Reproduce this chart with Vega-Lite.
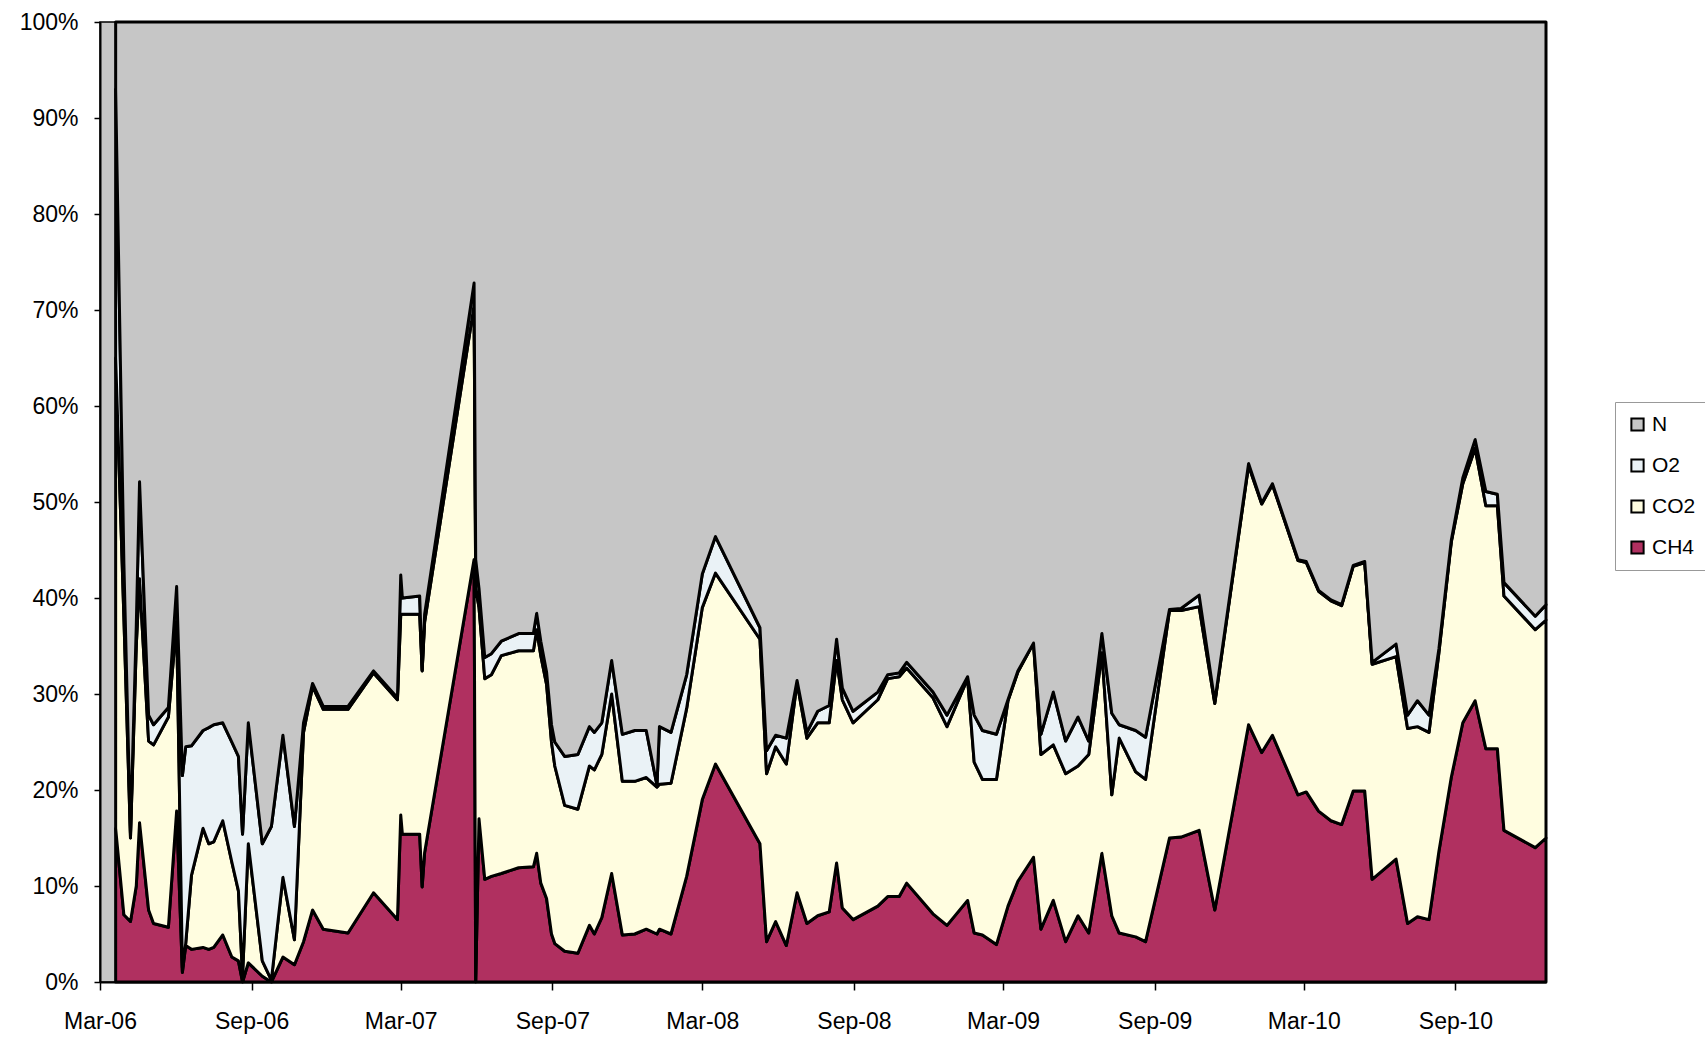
{
  "$schema": "https://vega.github.io/schema/vega-lite/v6.json",
  "autosize": {"type": "none"},
  "width": 1446,
  "height": 960,
  "padding": {"left": 100, "top": 22, "right": 159, "bottom": 56},
  "background": "white",
  "view": {"fill": "#C6C6C6", "stroke": "black", "strokeWidth": 1.5},
  "datasets": {
    "rank": [
      {"gas": "CH4", "r": 1},
      {"gas": "CO2", "r": 2},
      {"gas": "O2", "r": 3},
      {"gas": "N", "r": 4}
    ],
    "gas": [
      {"d":"2006-03-20","CH4":16,"CO2":49,"O2":28,"N":7},
      {"d":"2006-03-30","CH4":7,"CO2":31,"O2":5.6,"N":56.4},
      {"d":"2006-04-07","CH4":6.3,"CO2":8.7,"O2":0.5,"N":84.5},
      {"d":"2006-04-14","CH4":10,"CO2":25,"O2":2,"N":63},
      {"d":"2006-04-18","CH4":16.6,"CO2":25.4,"O2":10.1,"N":47.9},
      {"d":"2006-04-29","CH4":7.5,"CO2":17.6,"O2":2.7,"N":72.2},
      {"d":"2006-05-05","CH4":6.1,"CO2":18.6,"O2":2.1,"N":73.2},
      {"d":"2006-05-23","CH4":5.7,"CO2":21.9,"O2":1,"N":71.4},
      {"d":"2006-06-02","CH4":17.8,"CO2":19.7,"O2":3.7,"N":58.8},
      {"d":"2006-06-09","CH4":1,"CO2":0.5,"O2":20,"N":78.5},
      {"d":"2006-06-13","CH4":3.8,"CO2":0.2,"O2":20.5,"N":75.5},
      {"d":"2006-06-20","CH4":3.4,"CO2":7.7,"O2":13.5,"N":75.4},
      {"d":"2006-07-04","CH4":3.6,"CO2":12.4,"O2":10.2,"N":73.8},
      {"d":"2006-07-11","CH4":3.4,"CO2":11,"O2":12.1,"N":73.5},
      {"d":"2006-07-17","CH4":3.6,"CO2":11,"O2":12.2,"N":73.2},
      {"d":"2006-07-28","CH4":4.9,"CO2":11.9,"O2":10.2,"N":73},
      {"d":"2006-08-08","CH4":2.6,"CO2":9.9,"O2":12.5,"N":75},
      {"d":"2006-08-16","CH4":2.2,"CO2":7.3,"O2":14,"N":76.5},
      {"d":"2006-08-21","CH4":0,"CO2":0.6,"O2":14.8,"N":84.6},
      {"d":"2006-08-28","CH4":2,"CO2":12.4,"O2":12.6,"N":73},
      {"d":"2006-09-14","CH4":0.6,"CO2":1.6,"O2":12.2,"N":85.6},
      {"d":"2006-09-25","CH4":0,"CO2":0.2,"O2":16,"N":83.8},
      {"d":"2006-10-09","CH4":2.6,"CO2":8.3,"O2":14.8,"N":74.3},
      {"d":"2006-10-23","CH4":1.8,"CO2":2.6,"O2":11.8,"N":83.8},
      {"d":"2006-11-03","CH4":4.2,"CO2":21.8,"O2":1,"N":73},
      {"d":"2006-11-14","CH4":7.5,"CO2":23.3,"O2":0.3,"N":68.9},
      {"d":"2006-11-27","CH4":5.5,"CO2":22.9,"O2":0.3,"N":71.3},
      {"d":"2006-12-27","CH4":5.1,"CO2":23.3,"O2":0.3,"N":71.3},
      {"d":"2007-01-27","CH4":9.3,"CO2":22.9,"O2":0.2,"N":67.6},
      {"d":"2007-02-25","CH4":6.5,"CO2":22.9,"O2":0.2,"N":70.4},
      {"d":"2007-03-01","CH4":17.4,"CO2":20.9,"O2":4.1,"N":57.6},
      {"d":"2007-03-03","CH4":15.4,"CO2":22.9,"O2":1.7,"N":60},
      {"d":"2007-03-24","CH4":15.4,"CO2":22.9,"O2":1.9,"N":59.8},
      {"d":"2007-03-27","CH4":9.9,"CO2":22.5,"O2":0.1,"N":67.5},
      {"d":"2007-03-30","CH4":13.5,"CO2":24,"O2":0.8,"N":61.7},
      {"d":"2007-05-29","CH4":44,"CO2":26.5,"O2":2.3,"N":27.2},
      {"d":"2007-05-31","CH4":0,"CO2":41,"O2":3,"N":56},
      {"d":"2007-06-04","CH4":17,"CO2":22,"O2":2,"N":59},
      {"d":"2007-06-11","CH4":10.7,"CO2":20.9,"O2":2.2,"N":66.2},
      {"d":"2007-06-19","CH4":11,"CO2":21,"O2":2.2,"N":65.8},
      {"d":"2007-07-01","CH4":11.3,"CO2":22.7,"O2":1.5,"N":64.5},
      {"d":"2007-07-22","CH4":11.9,"CO2":22.6,"O2":1.8,"N":63.7},
      {"d":"2007-08-09","CH4":12,"CO2":22.5,"O2":1.8,"N":63.7},
      {"d":"2007-08-13","CH4":13.4,"CO2":23.3,"O2":1.7,"N":61.6},
      {"d":"2007-08-18","CH4":10.3,"CO2":23.7,"O2":1.5,"N":64.5},
      {"d":"2007-08-25","CH4":8.7,"CO2":22.3,"O2":1.3,"N":67.7},
      {"d":"2007-08-31","CH4":5,"CO2":20,"O2":1.8,"N":73.2},
      {"d":"2007-09-04","CH4":4,"CO2":18.5,"O2":2.5,"N":75},
      {"d":"2007-09-16","CH4":3.2,"CO2":15.2,"O2":5.1,"N":76.5},
      {"d":"2007-10-02","CH4":3,"CO2":15,"O2":5.7,"N":76.3},
      {"d":"2007-10-16","CH4":5.9,"CO2":16.6,"O2":4.1,"N":73.4},
      {"d":"2007-10-22","CH4":5,"CO2":17.1,"O2":3.9,"N":74},
      {"d":"2007-10-31","CH4":6.7,"CO2":17,"O2":3.3,"N":73},
      {"d":"2007-11-12","CH4":11.3,"CO2":18.7,"O2":3.5,"N":66.5},
      {"d":"2007-11-25","CH4":4.9,"CO2":16,"O2":4.9,"N":74.2},
      {"d":"2007-12-10","CH4":5,"CO2":15.9,"O2":5.3,"N":73.8},
      {"d":"2007-12-24","CH4":5.5,"CO2":15.8,"O2":4.9,"N":73.8},
      {"d":"2008-01-06","CH4":5,"CO2":15.3,"O2":0.2,"N":79.5},
      {"d":"2008-01-09","CH4":5.5,"CO2":15.1,"O2":6,"N":73.4},
      {"d":"2008-01-23","CH4":5,"CO2":15.7,"O2":5.3,"N":74},
      {"d":"2008-02-11","CH4":11,"CO2":17.5,"O2":3.5,"N":68},
      {"d":"2008-03-01","CH4":19,"CO2":20,"O2":3.5,"N":57.5},
      {"d":"2008-03-17","CH4":22.7,"CO2":19.9,"O2":3.8,"N":53.6},
      {"d":"2008-05-10","CH4":14.4,"CO2":21.3,"O2":1.2,"N":63.1},
      {"d":"2008-05-18","CH4":4.2,"CO2":17.5,"O2":2.4,"N":75.9},
      {"d":"2008-05-29","CH4":6.3,"CO2":18.2,"O2":1.2,"N":74.3},
      {"d":"2008-06-11","CH4":3.8,"CO2":18.9,"O2":2.7,"N":74.6},
      {"d":"2008-06-24","CH4":9.3,"CO2":21.9,"O2":0.2,"N":68.6},
      {"d":"2008-07-06","CH4":6.1,"CO2":19.3,"O2":0.6,"N":74},
      {"d":"2008-07-19","CH4":6.9,"CO2":20.1,"O2":1.2,"N":71.8},
      {"d":"2008-08-02","CH4":7.3,"CO2":19.7,"O2":1.8,"N":71.2},
      {"d":"2008-08-11","CH4":12.4,"CO2":21.1,"O2":2.2,"N":64.3},
      {"d":"2008-08-18","CH4":7.7,"CO2":21.7,"O2":1.2,"N":69.4},
      {"d":"2008-08-31","CH4":6.5,"CO2":20.5,"O2":1.2,"N":71.8},
      {"d":"2008-09-30","CH4":7.9,"CO2":21.5,"O2":0.8,"N":69.8},
      {"d":"2008-10-12","CH4":8.9,"CO2":22.7,"O2":0.4,"N":68},
      {"d":"2008-10-26","CH4":8.9,"CO2":22.9,"O2":0.4,"N":67.8},
      {"d":"2008-11-04","CH4":10.3,"CO2":22.4,"O2":0.6,"N":66.7},
      {"d":"2008-12-06","CH4":7.1,"CO2":22.5,"O2":0.6,"N":69.8},
      {"d":"2008-12-23","CH4":5.9,"CO2":20.7,"O2":1.2,"N":72.2},
      {"d":"2009-01-17","CH4":8.5,"CO2":23.1,"O2":0.2,"N":68.2},
      {"d":"2009-01-25","CH4":5.1,"CO2":17.8,"O2":4.9,"N":72.2},
      {"d":"2009-02-04","CH4":4.9,"CO2":16.2,"O2":5.1,"N":73.8},
      {"d":"2009-02-21","CH4":3.9,"CO2":17.2,"O2":4.7,"N":74.2},
      {"d":"2009-03-07","CH4":7.9,"CO2":21.4,"O2":0.1,"N":70.6},
      {"d":"2009-03-19","CH4":10.5,"CO2":21.8,"O2":0.1,"N":67.6},
      {"d":"2009-04-07","CH4":13,"CO2":22.3,"O2":0,"N":64.7},
      {"d":"2009-04-16","CH4":5.5,"CO2":18.2,"O2":2.1,"N":74.2},
      {"d":"2009-05-01","CH4":8.5,"CO2":16.2,"O2":5.5,"N":69.8},
      {"d":"2009-05-16","CH4":4.2,"CO2":17.5,"O2":3.4,"N":74.9},
      {"d":"2009-05-31","CH4":6.9,"CO2":15.6,"O2":5.1,"N":72.4},
      {"d":"2009-06-13","CH4":5.1,"CO2":18.6,"O2":1.4,"N":74.9},
      {"d":"2009-06-29","CH4":13.4,"CO2":20.9,"O2":2,"N":63.7},
      {"d":"2009-07-11","CH4":6.9,"CO2":12.6,"O2":8.5,"N":72},
      {"d":"2009-07-20","CH4":5.1,"CO2":20.3,"O2":1.4,"N":73.2},
      {"d":"2009-08-09","CH4":4.7,"CO2":17.2,"O2":4.3,"N":73.8},
      {"d":"2009-08-21","CH4":4.2,"CO2":16.9,"O2":4.4,"N":74.5},
      {"d":"2009-09-19","CH4":15,"CO2":23.7,"O2":0.1,"N":61.2},
      {"d":"2009-10-03","CH4":15.1,"CO2":23.6,"O2":0.2,"N":61.1},
      {"d":"2009-10-25","CH4":15.8,"CO2":23.3,"O2":1.2,"N":59.7},
      {"d":"2009-11-13","CH4":7.5,"CO2":21.5,"O2":0.2,"N":70.8},
      {"d":"2009-12-24","CH4":26.8,"CO2":27,"O2":0.2,"N":46},
      {"d":"2010-01-09","CH4":23.9,"CO2":25.9,"O2":0.1,"N":50.1},
      {"d":"2010-01-22","CH4":25.7,"CO2":26.1,"O2":0.1,"N":48.1},
      {"d":"2010-02-22","CH4":19.5,"CO2":24.4,"O2":0.1,"N":56},
      {"d":"2010-03-04","CH4":19.8,"CO2":23.9,"O2":0.1,"N":56.2},
      {"d":"2010-03-19","CH4":17.8,"CO2":22.9,"O2":0.1,"N":59.2},
      {"d":"2010-04-03","CH4":16.8,"CO2":22.9,"O2":0.1,"N":60.2},
      {"d":"2010-04-16","CH4":16.4,"CO2":22.8,"O2":0.1,"N":60.7},
      {"d":"2010-04-30","CH4":19.9,"CO2":23.4,"O2":0.1,"N":56.6},
      {"d":"2010-05-14","CH4":19.9,"CO2":23.8,"O2":0.1,"N":56.2},
      {"d":"2010-05-23","CH4":10.7,"CO2":22.4,"O2":0.2,"N":66.7},
      {"d":"2010-06-21","CH4":12.8,"CO2":21.1,"O2":1.3,"N":64.8},
      {"d":"2010-07-05","CH4":6.1,"CO2":20.3,"O2":1.4,"N":72.2},
      {"d":"2010-07-17","CH4":6.8,"CO2":19.8,"O2":2.7,"N":70.7},
      {"d":"2010-07-31","CH4":6.5,"CO2":19.5,"O2":1.8,"N":72.2},
      {"d":"2010-08-12","CH4":13.6,"CO2":20.7,"O2":0.4,"N":65.3},
      {"d":"2010-08-27","CH4":21.3,"CO2":24.5,"O2":0.2,"N":54},
      {"d":"2010-09-10","CH4":27,"CO2":24.9,"O2":0.6,"N":47.5},
      {"d":"2010-09-25","CH4":29.3,"CO2":26.3,"O2":0.9,"N":43.5},
      {"d":"2010-10-08","CH4":24.3,"CO2":25.3,"O2":1.5,"N":48.9},
      {"d":"2010-10-22","CH4":24.3,"CO2":25.3,"O2":1.2,"N":49.2},
      {"d":"2010-10-30","CH4":15.8,"CO2":24.4,"O2":1.4,"N":58.4},
      {"d":"2010-12-07","CH4":14,"CO2":22.7,"O2":1.4,"N":61.9},
      {"d":"2010-12-20","CH4":15,"CO2":22.7,"O2":1.6,"N":60.7}
    ]
  },
  "data": {"name": "gas"},
  "transform": [
    {"fold": ["CH4", "CO2", "O2", "N"], "as": ["gas", "pct"]},
    {"lookup": "gas", "from": {"data": {"name": "rank"}, "key": "gas", "fields": ["r"]}}
  ],
  "mark": {"type": "area", "interpolate": "linear", "stroke": "black", "strokeWidth": 3, "strokeJoin": "round", "fillOpacity": 1},
  "encoding": {
    "x": {
      "field": "d",
      "type": "temporal",
      "scale": {
        "type": "utc",
        "nice": false,
        "domain": [
          {"year": 2006, "month": 3, "date": 1, "utc": true},
          {"year": 2010, "month": 12, "date": 20, "utc": true}
        ]
      },
      "axis": {
        "title": null,
        "grid": false,
        "values": [
          {"year": 2006, "month": 3, "date": 1, "utc": true},
          {"year": 2006, "month": 9, "date": 1, "utc": true},
          {"year": 2007, "month": 3, "date": 1, "utc": true},
          {"year": 2007, "month": 9, "date": 1, "utc": true},
          {"year": 2008, "month": 3, "date": 1, "utc": true},
          {"year": 2008, "month": 9, "date": 1, "utc": true},
          {"year": 2009, "month": 3, "date": 1, "utc": true},
          {"year": 2009, "month": 9, "date": 1, "utc": true},
          {"year": 2010, "month": 3, "date": 1, "utc": true},
          {"year": 2010, "month": 9, "date": 1, "utc": true}
        ],
        "labelExpr": "utcFormat(datum.value, '%b-%y')",
        "labelFont": "Liberation Sans",
        "labelFontSize": 23,
        "labelColor": "black",
        "labelPadding": 20,
        "labelFlush": false,
        "labelOverlap": false,
        "tickSize": 8,
        "tickColor": "black",
        "tickWidth": 1.5,
        "domainColor": "black",
        "domainWidth": 2
      }
    },
    "y": {
      "field": "pct",
      "type": "quantitative",
      "stack": "normalize",
      "scale": {"domain": [0, 1], "nice": false},
      "axis": {
        "title": null,
        "grid": false,
        "values": [0, 0.1, 0.2, 0.3, 0.4, 0.5, 0.6, 0.7, 0.8, 0.9, 1],
        "format": ".0%",
        "labelFont": "Liberation Sans",
        "labelFontSize": 23,
        "labelColor": "black",
        "labelPadding": 16,
        "labelFlush": false,
        "tickSize": 6,
        "tickColor": "black",
        "tickWidth": 1.5,
        "domainColor": "black",
        "domainWidth": 2
      }
    },
    "color": {
      "field": "gas",
      "type": "nominal",
      "scale": {
        "domain": ["N", "O2", "CO2", "CH4"],
        "range": ["#C6C6C6", "#EAF2F6", "#FFFDE0", "#B03060"]
      },
      "legend": {
        "title": null,
        "orient": "none",
        "legendX": 1515,
        "legendY": 380,
        "symbolType": "square",
        "symbolSize": 150,
        "symbolStrokeColor": "black",
        "symbolStrokeWidth": 2,
        "symbolOpacity": 1,
        "labelFont": "Liberation Sans",
        "labelFontSize": 21,
        "labelColor": "black",
        "labelOffset": 4,
        "rowPadding": 19,
        "padding": 12,
        "strokeColor": "#999999",
        "fillColor": "white"
      }
    },
    "order": {"field": "r", "type": "quantitative", "sort": "ascending"}
  }
}
